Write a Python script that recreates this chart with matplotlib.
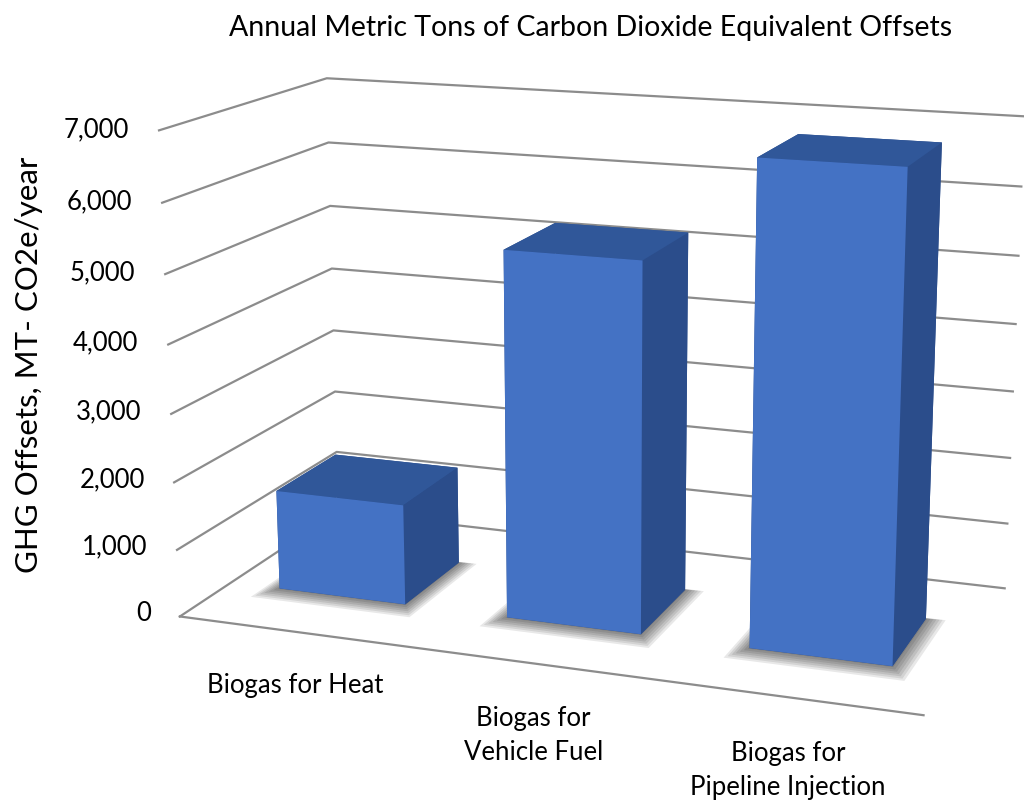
import matplotlib
matplotlib.use('Agg')
import matplotlib.pyplot as plt
import numpy as np

categories = ['Biogas for Heat', 'Biogas for\nVehicle Fuel', 'Biogas for\nPipeline Injection']
offsets = [1500, 5350, 6850]
ticks = [0, 1000, 2000, 3000, 4000, 5000, 6000, 7000]
tick_labels = ['0', '1,000', '2,000', '3,000', '4,000', '5,000', '6,000', '7,000']

plt.rcParams['font.family'] = ['Lato', 'DejaVu Sans']

fig = plt.figure(figsize=(10.24, 8.04), dpi=100)
ax = fig.add_axes([0.074, 0.027, 1.0, 1.0], projection='3d')
ax.set_proj_type('persp', focal_length=0.6)
ax.view_init(elev=14.6, azim=-70)
ax.set_box_aspect((771, 372, 499), zoom=1.186)
ax.set_xlim(0, 3)
ax.set_ylim(0, 1)
ax.set_zlim(0, 7000)
ax.set_axis_off()
ax.computed_zorder = False

grid_col = '#8c8c8c'
# walls: left side wall then back wall, one line per tick
for t in ticks:
    ax.plot([0, 0, 3], [0, 1, 1], [t, t, t], color=grid_col, lw=1.6, zorder=1,
            clip_on=False)
# front edge of the floor
ax.plot([0, 3], [0, 0], [0, 0], color=grid_col, lw=1.6, zorder=1, clip_on=False)

n = len(offsets)
bw, bd, y0 = 0.56, 0.38, 0.3
xs = np.arange(n) + 0.5 - bw / 2
ys = np.full(n, y0)
zs = np.zeros(n)

# soft floor shadow: stacked translucent footprints, each a bit larger
clear = (0, 0, 0, 0)
for s in np.linspace(0.005, 0.07, 7):
    shade_cols = [(0, 0, 0, 0.09), clear, clear, clear, clear, clear] * n
    sh = ax.bar3d(xs - s * 0.9, ys - s * 1.3, zs, bw + s * 2.0, bd + s * 1.4,
                  np.zeros(n), color=shade_cols, shade=False, edgecolor='none',
                  zorder=1.5)
    sh.set_clip_on(False)

front = '#4472c4'
top = '#305799'
side = '#2b4d8b'
face_cols = [side, top, front, side, side, side] * n
bars = ax.bar3d(xs, ys, zs, bw, bd, offsets, color=face_cols, shade=False,
                edgecolor='none', zorder=2)
bars.set_clip_on(False)

for t, lab in zip(ticks, tick_labels):
    ax.text(-0.13, 0, t, lab, ha='right', va='center', fontsize=18.5, zorder=5)

for i, lab in enumerate(categories):
    ax.text(i + 0.5, 0, -600, lab, ha='center', va='top', fontsize=18.5,
            linespacing=1.45, zorder=5)

fig.text(0.577, 0.965, 'Annual Metric Tons of Carbon Dioxide Equivalent Offsets',
         ha='center', va='center', fontsize=20.5)
fig.text(0.028, 0.546, 'GHG Offsets, MT- CO2e/year', rotation=90,
         ha='center', va='center', fontsize=22.5)

fig.savefig('out.png', dpi=100)
